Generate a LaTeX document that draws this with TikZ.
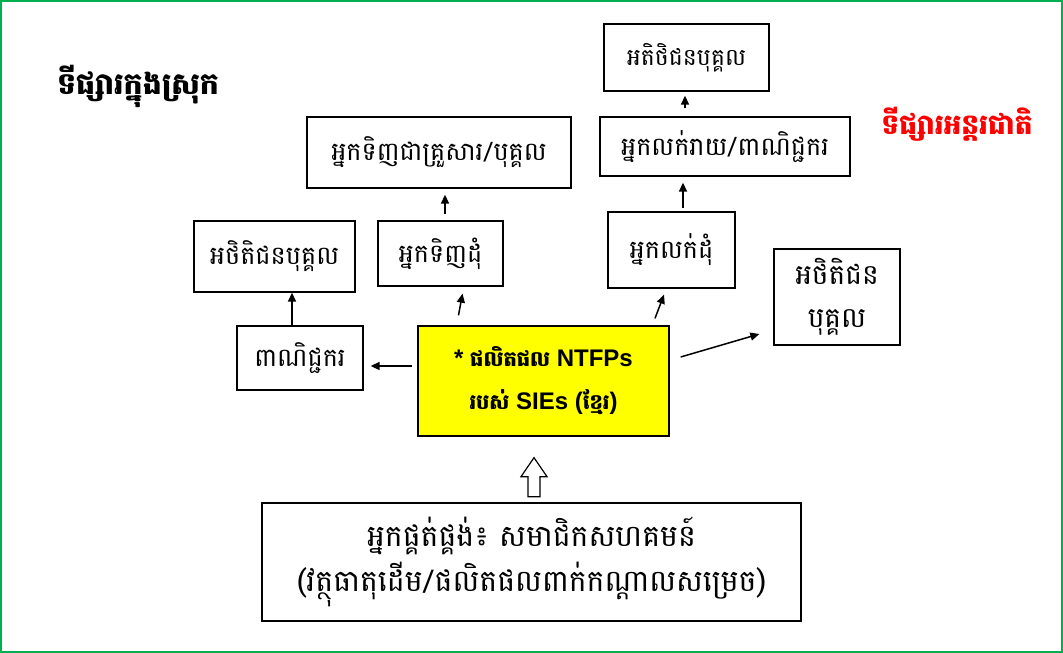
\documentclass[tikz,border=0pt]{standalone}
\usepackage{fontspec}
\setmainfont{Liberation Sans}
\newfontfamily\kh[Script=Khmer]{Battambang}
\usetikzlibrary{arrows.meta,calc}
\definecolor{framegreen}{RGB}{0,176,80}
\definecolor{boxyellow}{RGB}{255,255,0}
\definecolor{redlabel}{RGB}{255,0,0}
\begin{document}
\begin{tikzpicture}[x=1pt,y=-1pt,
  box/.style={draw, line width=1.3pt, inner sep=0pt, align=center,
    font=\kh\fontsize{25.5}{43}\selectfont},
  arr/.style={-{Triangle[length=9pt,width=8pt]}, line width=1.5pt},
  lbl/.style={font=\kh\bfseries\fontsize{30}{34}\selectfont}]
\useasboundingbox (0,0) rectangle (1063,653);
\draw[framegreen, line width=2pt] (1,1) rectangle (1062,652);

\node[lbl] (loc) at (138,86) {ទីផ្សារក្នុងស្រុក};
\node[lbl, text=redlabel, font=\kh\bfseries\fontsize{28}{32}\selectfont] (intl) at (957,124) {ទីផ្សារអន្តរជាតិ};

\node[box, minimum width=165, minimum height=67, font=\kh\fontsize{23.5}{43}\selectfont] (top) at (686.5,57.5) {អតិថិជនបុគ្គល};
\node[box, minimum width=250, minimum height=59] (retail) at (725,146.5) {អ្នកលក់រាយ/ពាណិជ្ជករ};
\node[box, minimum width=264, minimum height=71] (house) at (439,152.5) {អ្នកទិញជាគ្រួសារ/បុគ្គល};
\node[box, minimum width=161, minimum height=71] (clientL) at (274.5,256.5) {អថិតិជនបុគ្គល};
\node[box, minimum width=125, minimum height=65] (wbuy) at (440.5,253.5) {អ្នកទិញដុំ};
\node[box, minimum width=127, minimum height=76] (wsell) at (671.5,250) {អ្នកលក់ដុំ};
\node[box, minimum width=126, minimum height=96, font=\kh\fontsize{28}{43}\selectfont] (clientR) at (837,297) {អថិតិជន\\បុគ្គល};
\node[box, minimum width=126, minimum height=64] (trader) at (300,358) {ពាណិជ្ជករ};
\node[box, fill=boxyellow, minimum width=251, minimum height=110,
  font=\bfseries\fontsize{24}{43}\selectfont] (prod) at (543.5,381)
  {* {\kh\fontsize{21}{43}\selectfont ផលិតផល} NTFPs\\{\kh\fontsize{21}{43}\selectfont របស់} SIEs ({\kh\fontsize{21}{43}\selectfont ខ្មែរ})};
\node[box, minimum width=539, minimum height=118, font=\kh\fontsize{30}{45}\selectfont] (supp) at (531.5,562)
  {អ្នកផ្គត់ផ្គង់៖ សមាជិកសហគមន៍\\(វត្ថុធាតុដើម/ផលិតផលពាក់កណ្តាលសម្រេច)};

% arrows
\draw[arr] ([xshift=-8pt]trader.north) -- ([xshift=-8pt]trader.north |- clientL.south);
\coordinate (a2) at ($(prod.west)+(-5,-15)$);
\draw[arr, shorten >=7pt] (a2) -- (a2 -| trader.east);
\draw[arr] ($(prod.north)+(-85,-10)$) -- ($(wbuy.south)+(22,7)$);
\draw[arr] ($(wbuy.north)+(4.5,-6)$) -- ($(house.south)+(6,6)$);
\draw[arr] ($(prod.north)+(111.5,-7)$) -- ($(wsell.south)+(-7.5,6)$);
\draw[arr] ($(wsell.north)+(11.5,-3)$) -- ($(retail.south)+(-42,6)$);
\draw[arr] ($(retail.north)+(-40,-8)$) -- ($(top.south)+(-1.5,4)$);
\draw[arr] ($(prod.east)+(11,-24)$) -- ($(clientR.west)+(-14,37)$);

% hollow block arrow
\coordinate (tip) at ($(prod.south)+(-9.5,21)$);
\draw[line width=1.2pt, fill=white]
  (tip) -- ++(13,19) -- ++(-7,0) -- ++(0,20) -- ++(-12,0) -- ++(0,-20) -- ++(-7,0) -- cycle;
\end{tikzpicture}
\end{document}
